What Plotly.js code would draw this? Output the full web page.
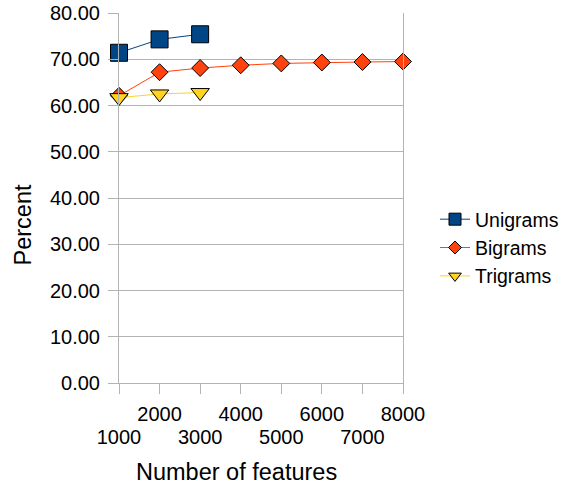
<!DOCTYPE html>
<html>
<head>
<meta charset="utf-8">
<script src="https://cdn.plot.ly/plotly-3.0.1.min.js"></script>
<style>html,body{margin:0;padding:0;background:#fff;}#chart{width:565px;height:485px;}</style>
</head>
<body>
<div id="chart"></div>
<script>
const features = [1000, 2000, 3000, 4000, 5000, 6000, 7000, 8000];
const unigrams = [71.4, 74.3, 75.4];
const bigrams = [62.1, 67.2, 68.1, 68.7, 69.1, 69.3, 69.4, 69.5];
const trigrams = [61.7, 62.5, 62.8];
const seriesNames = ['Unigrams', 'Bigrams', 'Trigrams'];
const yTicks = [0, 10, 20, 30, 40, 50, 60, 70, 80];
const xTitle = 'Number of features';
const yTitle = 'Percent';

const W = 565, H = 485;
const M = {l: 119, r: 162, t: 13, b: 102, autoexpand: false};
const pw = W - M.l - M.r, ph = H - M.t - M.b;
const px = v => (v - M.l) / pw;
const py = v => (H - M.b - v) / ph;

const oddTicks = features.filter((f, i) => i % 2 === 0);

const styles = [
  {line: {color: '#004586', width: 1}, symbol: 'square', size: 17, lsize: 12, color: '#004586'},
  {line: {color: '#ff420e', width: 1}, symbol: 'diamond', size: 13, lsize: 10, color: '#ff420e'},
  {line: {color: '#ffd320', width: 1}, symbol: 'triangle-down', size: 16, lsize: 11, color: '#ffd320'}
];
const data = [unigrams, bigrams, trigrams];

const traces = [];
data.forEach((vals, i) => {
  const s = styles[i];
  traces.push({x: features.slice(0, vals.length), y: vals, name: seriesNames[i], type: 'scatter', mode: 'lines+markers',
    line: s.line, cliponaxis: false, showlegend: false,
    marker: {symbol: s.symbol, size: s.size, color: s.color, line: {color: '#000', width: 1}}});
});
data.forEach((vals, i) => {
  const s = styles[i];
  traces.push({x: [null], y: [null], name: seriesNames[i], type: 'scatter', mode: 'lines+markers',
    line: s.line, showlegend: true, hoverinfo: 'skip',
    marker: {symbol: s.symbol, size: s.lsize, color: s.color, line: {color: '#000', width: 1}}});
});
traces.push({x: [], y: [], xaxis: 'x2', showlegend: false, hoverinfo: 'skip', type: 'scatter'});

const font = {family: 'Liberation Sans, Arial, sans-serif', color: '#000'};
const layout = {
  width: W, height: H,
  margin: M,
  paper_bgcolor: '#fff', plot_bgcolor: '#fff',
  font: Object.assign({}, font, {size: 20}),
  showlegend: true,
  legend: {x: px(435), xanchor: 'left', y: py(248), yanchor: 'middle', font: Object.assign({}, font, {size: 19.5}),
           bgcolor: 'rgba(0,0,0,0)', borderwidth: 0, itemwidth: 30},
  xaxis: {type: 'linear', range: [1000, 8000], tickvals: features, ticktext: features.map((f, i) => i % 2 === 1 ? String(f) : ''),
          ticks: 'outside', ticklen: 10, tickcolor: '#b3b3b3', showgrid: false, zeroline: false, ticklabelstandoff: 3,
          showline: true, linecolor: '#b3b3b3', linewidth: 1, tickfont: Object.assign({}, font, {size: 20})},
  xaxis2: {type: 'linear', range: [1000, 8000], overlaying: 'x', anchor: 'y', side: 'bottom', tickvals: oddTicks,
           ticktext: oddTicks.map(String), ticks: 'outside', ticklen: 10, tickcolor: 'rgba(0,0,0,0)',
           ticklabelstandoff: 26, showgrid: false, zeroline: false, showline: false,
           tickfont: Object.assign({}, font, {size: 20})},
  yaxis: {range: [0, 80], tickvals: yTicks, tickformat: '.2f', ticks: 'outside', ticklen: 10, tickcolor: '#b3b3b3',
          showgrid: true, gridcolor: '#b3b3b3', gridwidth: 1, zeroline: false, showline: true, mirror: true,
          ticklabelstandoff: 4,
          linecolor: '#b3b3b3', linewidth: 1, tickfont: Object.assign({}, font, {size: 20})},
  annotations: [
    {text: yTitle, xref: 'paper', yref: 'paper', x: px(22.5), y: py(225), xanchor: 'center', yanchor: 'middle',
     textangle: -90, showarrow: false, font: Object.assign({}, font, {size: 23.5})},
    {text: xTitle, xref: 'paper', yref: 'paper', x: px(236), y: py(472), xanchor: 'center', yanchor: 'middle',
     showarrow: false, font: Object.assign({}, font, {size: 23.5})}
  ]
};
Plotly.newPlot('chart', traces, layout, {displayModeBar: false, staticPlot: true});
</script>
</body>
</html>
